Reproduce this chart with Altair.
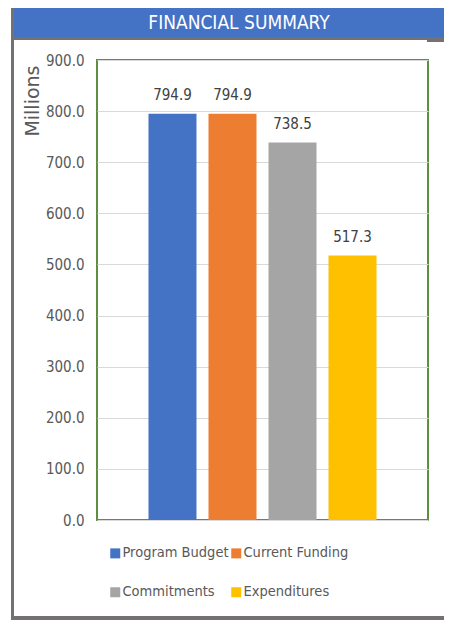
import altair as alt
import pandas as pd

series = ["Program Budget", "Current Funding", "Commitments", "Expenditures"]
values = [794.9, 794.9, 738.5, 517.3]
colors = ["#4472C4", "#ED7D31", "#A5A5A5", "#FFC000"]
y_ticks = [0, 100, 200, 300, 400, 500, 600, 700, 800, 900]
title_text = "FINANCIAL SUMMARY"
axis_title = "Millions"

df = pd.DataFrame({"series": series, "value": values})
one = pd.DataFrame({"k": [0]})

NARROW = "DejaVu Sans Condensed, sans-serif"
FRAME = "#757171"

W, H = 331, 460

x_enc = alt.X(
    "series:N",
    sort=series,
    scale=alt.Scale(paddingInner=0.2, paddingOuter=0.858),
    axis=None,
)
y_enc = alt.Y(
    "value:Q",
    scale=alt.Scale(domain=[0, 900], nice=False),
    axis=alt.Axis(
        values=y_ticks,
        format=".1f",
        ticks=False,
        domain=False,
        grid=True,
        gridColor="#D9D9D9",
        gridWidth=1,
        labelFont=NARROW,
        labelFontSize=15,
        labelColor="#595959",
        labelPadding=13,
        title=axis_title,
        titleFont="DejaVu Sans",
        titleFontSize=19,
        titleFontWeight="normal",
        titleColor="#595959",
        titleAngle=-90,
        titleAlign="right",
        titleBaseline="alphabetic",
        titleX=-59,
        titleY=5,
    ),
)

bars = alt.Chart(df).mark_bar().encode(
    x=x_enc,
    y=y_enc,
    color=alt.Color(
        "series:N",
        sort=series,
        scale=alt.Scale(domain=series, range=colors),
        legend=alt.Legend(
            title=None,
            orient="none",
            legendX=11,
            legendY=486,
            columns=2,
            direction="horizontal",
            symbolType="square",
            symbolSize=100,
            symbolStrokeWidth=0,
            labelFont=NARROW,
            labelFontSize=14.5,
            labelColor="#595959",
            labelOffset=0,
            columnPadding=-6,
            rowPadding=24,
            padding=0,
            labelLimit=300,
        ),
    ),
)

labels = alt.Chart(df).mark_text(
    baseline="alphabetic", dy=-14, font=NARROW, fontSize=15, color="#404040"
).encode(
    x=alt.X("series:N", sort=series),
    y="value:Q",
    text=alt.Text("value:Q", format=".1f"),
)

def rect(x1, x2, y1, y2, color):
    return alt.Chart(one).mark_rect(color=color).encode(
        x=alt.value(x1), x2=alt.value(x2), y=alt.value(y1), y2=alt.value(y2)
    )

deco = [
    rect(-86, 347, -52, -20, FRAME),
    rect(-83, 347, -52, -23, "#4472C4"),
    rect(330, 347, -23, -18, FRAME),
    rect(-86, -83, -52, 560, FRAME),
    rect(-86, 347, 556, 560, FRAME),
]

header_text = alt.Chart(one).mark_text(
    text=title_text, font=NARROW, fontSize=19, color="white",
    align="center", baseline="middle"
).encode(x=alt.value(142), y=alt.value(-37))

chart = alt.layer(*deco, header_text, bars, labels).properties(
    width=W,
    height=H,
    padding={"left": 89, "top": 52, "right": 16, "bottom": 100},
    autosize=alt.AutoSizeParams(type="none"),
).configure_view(
    stroke="#5E8F3F", strokeWidth=2
)

chart.save("out.html", embed_options={"renderer": "svg", "actions": False})
